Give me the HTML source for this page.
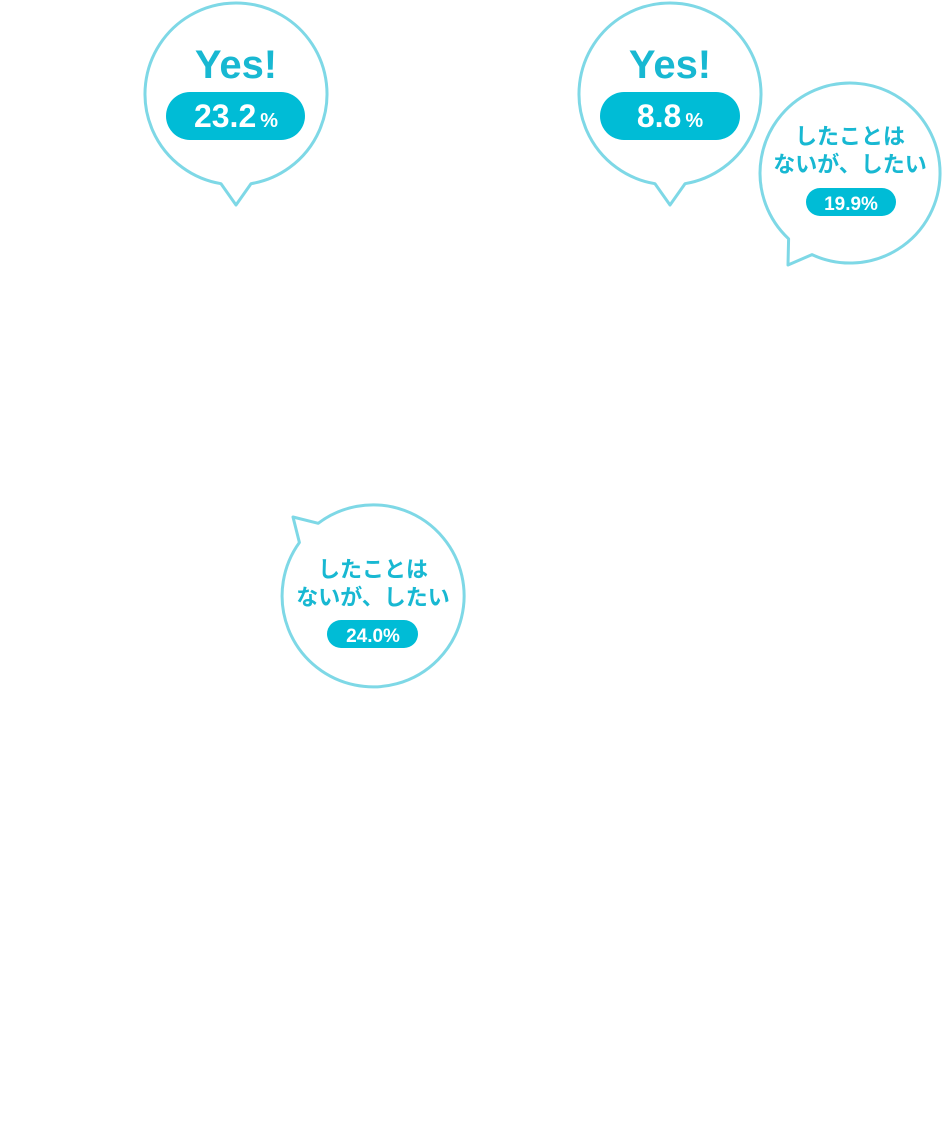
<!DOCTYPE html>
<html><head><meta charset="utf-8">
<style>
html,body{margin:0;padding:0;background:#fff;}
body{width:942px;height:1135px;overflow:hidden;}
svg text{font-family:"Liberation Sans","Noto Sans CJK JP",sans-serif;font-weight:bold;}
</style></head><body>
<svg width="942" height="1135" viewBox="0 0 942 1135" xmlns="http://www.w3.org/2000/svg">
<g fill="#fff" stroke="#7ed8e6" stroke-width="3" stroke-linejoin="round">
  <path d="M221,183.7 A91,91 0 1 1 251,183.7 L236,205 Z"/>
  <path d="M655,183.7 A91,91 0 1 1 685,183.7 L670,205 Z"/>
  <path d="M812,254.6 A90,90 0 1 0 788.6,238.8 L788,265 Z"/>
  <path d="M318.2,523.3 A91,91 0 1 1 299.4,542.5 L293,517 Z"/>
</g>
<g fill="#00bcd6">
  <rect x="166" y="92" width="139" height="48" rx="24"/>
  <rect x="600" y="92" width="140" height="48" rx="24"/>
  <rect x="806" y="188" width="90" height="28" rx="14"/>
  <rect x="327" y="620" width="91" height="28" rx="14"/>
</g>
<g fill="#18b8d2" text-anchor="middle">
  <text x="236" y="78" font-size="40">Yes!</text>
  <text x="670" y="78" font-size="40">Yes!</text>
  <text x="850" y="144" font-size="22">したことは</text>
  <text x="850" y="172" font-size="22">ないが、したい</text>
  <text x="373" y="577" font-size="22">したことは</text>
  <text x="373" y="605" font-size="22">ないが、したい</text>
</g>
<g fill="#fff" text-anchor="middle">
  <text x="236" y="127" font-size="32">23.2<tspan font-size="20" dx="4">%</tspan></text>
  <text x="670" y="127" font-size="32">8.8<tspan font-size="20" dx="4">%</tspan></text>
  <text x="851" y="210" font-size="19">19.9%</text>
  <text x="373" y="642" font-size="19">24.0%</text>
</g>
</svg>
</body></html>
